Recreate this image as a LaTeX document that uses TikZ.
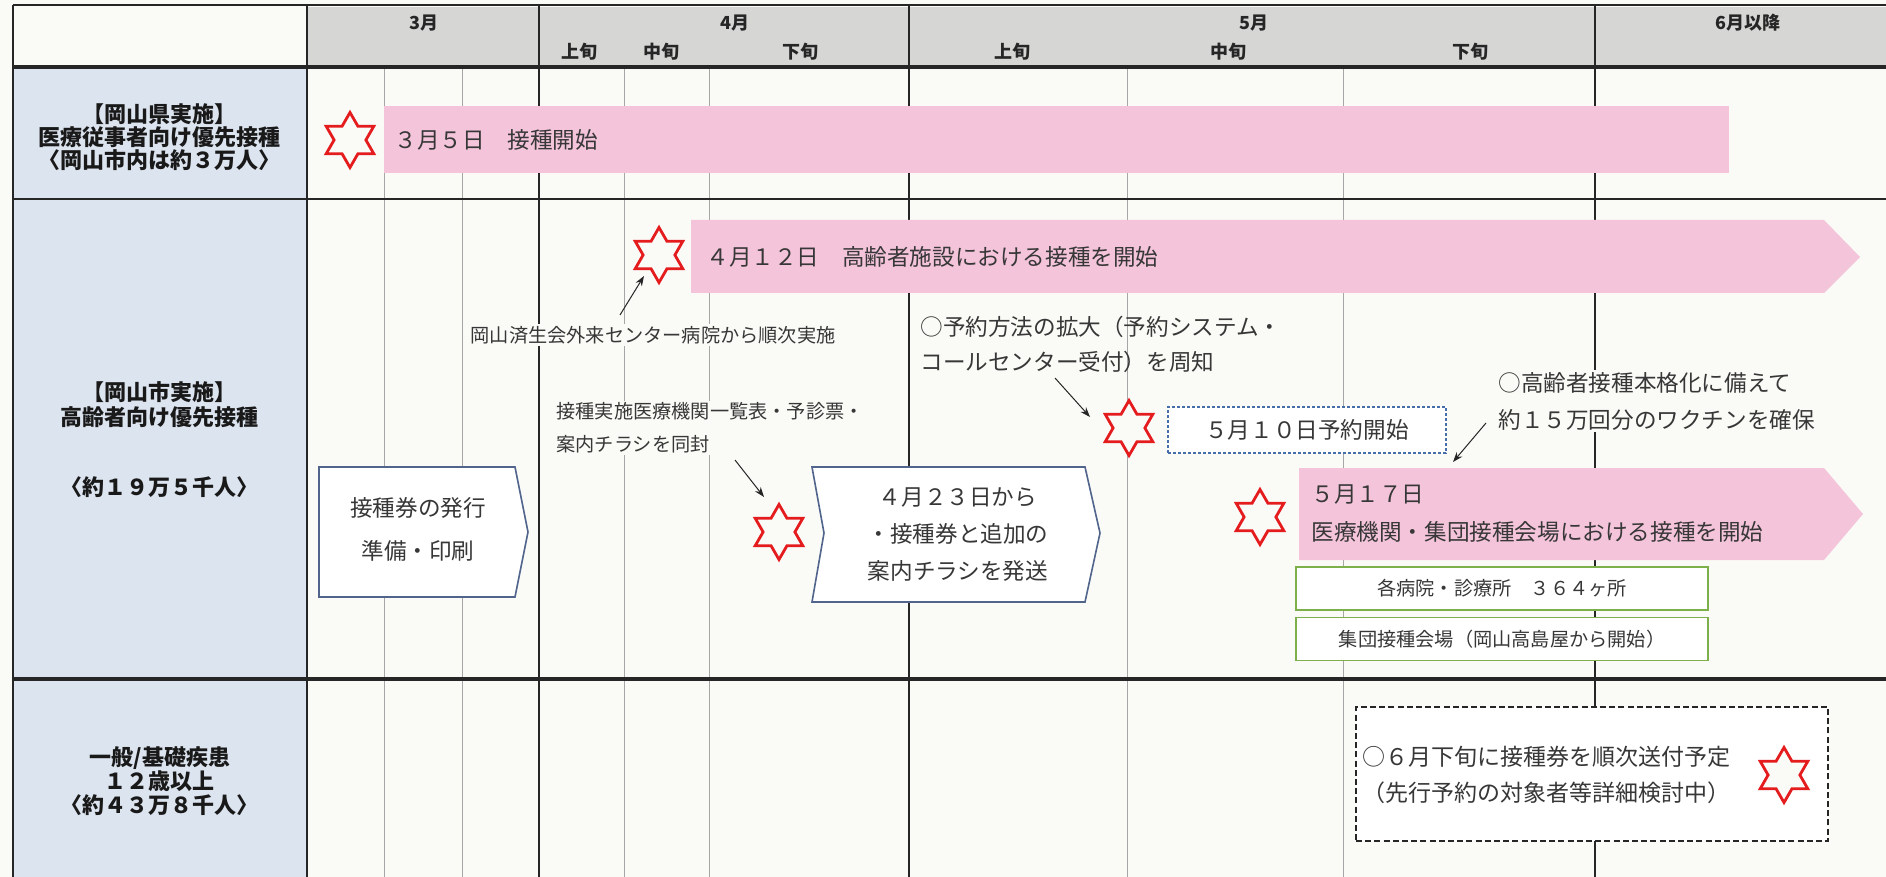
\documentclass[tikz,border=0pt]{standalone}
\usepackage{fontspec}
\setmainfont{Noto Sans CJK JP}
\usetikzlibrary{shapes.geometric,arrows.meta}
\definecolor{bg}{RGB}{250,250,247}
\definecolor{labelblue}{RGB}{220,228,239}
\definecolor{headgray}{RGB}{214,214,212}
\definecolor{barpink}{RGB}{244,196,218}
\definecolor{starred}{RGB}{228,28,30}
\definecolor{boxblue}{RGB}{80,100,140}
\definecolor{dashblue}{RGB}{70,110,170}
\definecolor{boxgreen}{RGB}{125,175,75}
\definecolor{txt}{RGB}{55,55,55}
\begin{document}
\begin{tikzpicture}[x=0.5pt,y=-0.5pt,
  majorline/.style={black!85,line width=0.7pt},
  minorline/.style={black!35,line width=0.45pt},
  hline/.style={black!85,line width=1.3pt},
  headtxt/.style={font=\bfseries\fontsize{9}{9}\selectfont,text=black!85,inner sep=0pt},
  labeltxt/.style={font=\bfseries\fontsize{11}{11.5}\selectfont,align=center,inner sep=0pt,text=black!90},
  body/.style={font=\fontsize{11.3}{11.3}\selectfont,text=txt,inner sep=1pt},
  small/.style={font=\fontsize{9.6}{9.6}\selectfont,text=txt,inner sep=1pt},
  star6/.style={star,star points=6,star point ratio=1.732,minimum size=27.5pt,inner sep=0pt,draw=starred,fill=bg,line width=1.4pt},
  pinkbar/.style={fill=barpink,draw=none},
  chev/.style={draw=boxblue,fill=white,line width=0.8pt},
  greenbox/.style={draw=boxgreen,fill=white,line width=0.8pt,minimum width=206pt,minimum height=21.5pt,inner sep=0pt,font=\fontsize{9.6}{9.6}\selectfont,text=txt},
  note/.style={-{Stealth[length=5pt,width=3.6pt]},black!85,line width=0.5pt}]
\useasboundingbox (0,0) rectangle (1886,877);
\fill[bg] (0,0) rectangle (1886,877);
% fills
\fill[labelblue] (13,67) rectangle (307,877);
\fill[headgray] (307,7) rectangle (1886,66);
% grid
\foreach \x in {384,462,624,709,1127,1343} \draw[minorline] (\x,67) -- (\x,877);
\foreach \x in {539,909,1595} \draw[majorline] (\x,5) -- (\x,877);
\draw[majorline,line width=0.9pt] (307,5) -- (307,877);
\draw[majorline,line width=1pt] (13,5) -- (13,877);
\draw[hline] (13,5) -- (1886,5);
\draw[hline,line width=1.6pt] (13,67) -- (1886,67);
\draw[hline,line width=1.1pt] (13,199) -- (1886,199);
\draw[hline,line width=1.6pt] (13,679) -- (1886,679);
% header
\node[headtxt] (m3) at (424,23) {3月};
\node[headtxt] (m4) at (735,23) {4月};
\node[headtxt] (m5) at (1254,23) {5月};
\node[headtxt] (m6) at (1748,23) {6月以降};
\node[headtxt] (a1) at (579,52) {上旬};
\node[headtxt] (a2) at (661,52) {中旬};
\node[headtxt] (a3) at (800,52) {下旬};
\node[headtxt] (b1) at (1012,52) {上旬};
\node[headtxt] (b2) at (1228,52) {中旬};
\node[headtxt] (b3) at (1470,52) {下旬};
% row labels
\node[labeltxt] (l1) at (160,137) {【岡山県実施】\\医療従事者向け優先接種\\〈岡山市内は約３万人〉};
\node[labeltxt,font=\bfseries\fontsize{11}{12.5}\selectfont] (l2) at (160,405) {【岡山市実施】\\高齢者向け優先接種};
\node[labeltxt] (l2b) at (160,487) {〈約１９万５千人〉};
\node[labeltxt,font=\bfseries\fontsize{11}{12}\selectfont] (l3) at (160,781) {一般/基礎疾患\\１２歳以上\\〈約４３万８千人〉};
% row 1
\fill[pinkbar] (384,106) rectangle (1729,173);
\node[star6] (s1) at (350,140) {};
\node[body,anchor=west] (t1) at (392,140) {３月５日　接種開始};
% row 2 top bar
\fill[pinkbar] (691,220) -- (1824,220) -- (1860,257) -- (1824,293) -- (691,293) -- cycle;
\node[star6] (s2) at (659,255) {};
\node[body,anchor=west] (t2) at (704,257) {４月１２日　高齢者施設における接種を開始};
\node[small,fill=bg] (n1) at (653,335) {岡山済生会外来センター病院から順次実施};
\coordinate (n1s) at (620,315);
\coordinate (n1e) at (644,276);
\draw[note] (n1s) -- (n1e);
% reservation notes
\node[body,anchor=west,align=left,font=\fontsize{11.3}{17.5}\selectfont] (n2) at (918,344) {○予約方法の拡大（予約システム・\\コールセンター受付）を周知};
\coordinate (n2s) at (1055,378);
\coordinate (n2e) at (1090,417);
\draw[note] (n2s) -- (n2e);
\node[star6] (s3) at (1129,428) {};
\node[draw=dashblue,fill=white,line width=0.8pt,dash pattern=on 1.6pt off 0.9pt,minimum width=139pt,minimum height=23pt,inner sep=0pt,font=\fontsize{11.3}{11.3}\selectfont,text=txt] (res) at (1307,430) {５月１０日予約開始};
\node[body,anchor=west,align=left,fill=bg,font=\fontsize{11.3}{18.5}\selectfont] (n3) at (1496,401) {○高齢者接種本格化に備えて\\約１５万回分のワクチンを確保};
\coordinate (n3s) at (1486,423);
\coordinate (n3e) at (1453,462);
\draw[note] (n3s) -- (n3e);
% enclosure note
\node[small,anchor=west,align=left,fill=bg,font=\fontsize{9.6}{16.5}\selectfont] (n4) at (554,428) {接種実施医療機関一覧表・予診票・\\案内チラシを同封};
\coordinate (n4s) at (735,460);
\coordinate (n4e) at (764,497);
\draw[note] (n4s) -- (n4e);
\node[star6] (s4) at (779,532) {};
% chevron boxes
\draw[chev] (319,467) -- (515,467) -- (528,532) -- (515,597) -- (319,597) -- cycle;
\draw[boxblue,line width=1.2pt] (319,597) -- (515,597);
\node[body,align=center,font=\fontsize{11.3}{21.5}\selectfont] (ba) at (418,529) {接種券の発行\\準備・印刷};
\draw[chev] (812,467) -- (1085,467) -- (1100,533) -- (1085,602) -- (812,602) -- (824,533) -- cycle;
\draw[boxblue,line width=1.2pt] (812,602) -- (1085,602);
\node[body,align=center,font=\fontsize{11.3}{18.5}\selectfont] (bb) at (958,535) {４月２３日から\\・接種券と追加の\\案内チラシを発送};
% second pink bar
\fill[pinkbar] (1299,468) -- (1824,468) -- (1863,514) -- (1824,560) -- (1299,560) -- cycle;
\node[star6] (s5) at (1260,517) {};
\node[body,anchor=west] (t5a) at (1309,495) {５月１７日};
\node[body,anchor=west] (t5b) at (1309,532) {医療機関・集団接種会場における接種を開始};
\node[greenbox] (g1) at (1502,588.5) {各病院・診療所　３６４ヶ所};
\node[greenbox] (g2) at (1502,639) {集団接種会場（岡山高島屋から開始）};
% row 3
\node[draw=black!85,fill=white,line width=0.8pt,dash pattern=on 3pt off 1.6pt,minimum width=236pt,minimum height=67pt,inner sep=0pt] (db) at (1592,774) {};
\node[body,anchor=west,align=left,font=\fontsize{11.5}{18}\selectfont] (t6) at (1360,775) {○６月下旬に接種券を順次送付予定\\（先行予約の対象者等詳細検討中）};
\node[star6] (s6) at (1784,775) {};
\end{tikzpicture}
\end{document}
